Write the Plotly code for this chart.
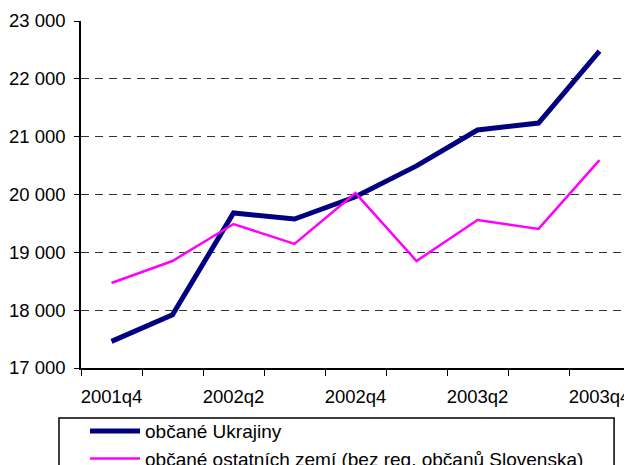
import plotly.graph_objects as go

quarters = ["2001q4", "2002q1", "2002q2", "2002q3", "2002q4",
            "2003q1", "2003q2", "2003q3", "2003q4"]
ukraine = [17460, 17920, 19680, 19575, 19960, 20495, 21115, 21235, 22480]
others = [18470, 18850, 19490, 19145, 20025, 18850, 19560, 19405, 20595]
series_names = ["občané Ukrajiny", "občané ostatních zemí (bez reg. občanů Slovenska)"]
shown_labels = [q if i % 2 == 0 else "" for i, q in enumerate(quarters)]
y_ticks = [17000, 18000, 19000, 20000, 21000, 22000, 23000]

FONT = "Liberation Sans, Arial, sans-serif"

fig = go.Figure()
fig.add_trace(go.Scatter(x=quarters, y=ukraine, mode="lines", name=series_names[0],
                         line=dict(color="#000080", width=5)))
fig.add_trace(go.Scatter(x=quarters, y=others, mode="lines", name=series_names[1],
                         line=dict(color="#FF00FF", width=2.5)))

# the page has an 8px body margin, so the figure is sized/offset to compensate
fig.update_layout(
    width=624, height=457,
    margin=dict(l=73, r=2, t=13, b=97, autoexpand=False),
    paper_bgcolor="white", plot_bgcolor="white",
    font=dict(family=FONT, size=18.5, color="black"),
    separators=". ",
    showlegend=True,
    legend=dict(orientation="v", x=0.0073, y=-0.127, xanchor="left", yanchor="top",
                bgcolor="rgba(0,0,0,0)", borderwidth=0, itemwidth=50,
                font=dict(family=FONT, size=19, color="black"), tracegroupgap=0),
    shapes=[dict(type="rect", xref="paper", yref="paper",
                 x0=-0.0401, x1=0.971, y0=-0.144, y1=-0.4,
                 line=dict(color="black", width=1.5), fillcolor="rgba(0,0,0,0)",
                 layer="below")],
)
fig.update_xaxes(
    type="category", categoryorder="array", categoryarray=quarters,
    tickmode="array", tickvals=quarters, ticktext=shown_labels,
    tickson="boundaries", ticks="outside", ticklen=6, tickcolor="black",
    showline=True, linecolor="black", linewidth=1.5, showgrid=False,
    tickangle=0, automargin=False, ticklabelstandoff=11,
    tickfont=dict(family=FONT, size=18.5, color="black"),
    range=[-0.5, len(quarters) - 0.5], fixedrange=True,
)
fig.update_yaxes(
    range=[17000, 23000], tickvals=y_ticks, tickformat=",d",
    ticks="outside", ticklen=5, tickcolor="black",
    showline=True, linecolor="black", linewidth=1.5,
    showgrid=True, gridcolor="#333333", gridwidth=1, griddash="8px,6px",
    zeroline=False, ticklabelstandoff=5, automargin=False,
    tickfont=dict(family=FONT, size=18.5, color="black"),
)

fig.write_html("out.html")
